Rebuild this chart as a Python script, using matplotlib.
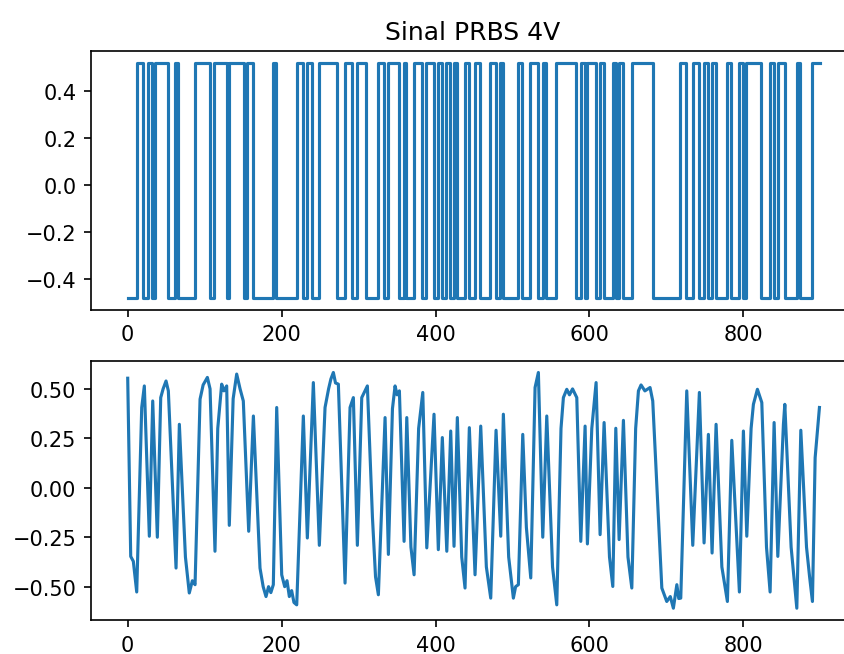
import matplotlib
matplotlib.use("Agg")
import matplotlib.pyplot as plt
import numpy as np

# PRBS levels and the instants where it switches low -> high (on) and high -> low (off)
prbs_low = -0.48
prbs_high = 0.52
t_end = 899
prbs_on = [11.7, 27, 36, 62, 87.5, 112.2, 131.5, 155.4, 189, 220, 232.6, 248, 282,
           297.5, 325.5, 338.5, 358.5, 372, 388, 403, 414, 423.5, 438, 451, 471,
           484, 507, 523, 539, 557, 588.5, 597, 613.5, 630, 638, 655, 718, 734,
           748.5, 759, 779, 794.5, 804, 834.5, 844.5, 869, 889.5]
prbs_off = [20, 31.5, 52, 65.8, 107, 129, 151, 162.4, 192.5, 227.4, 240, 272, 292,
            310, 333.5, 352, 362, 382.5, 397.5, 408, 419, 428, 443.5, 457.5, 478,
            487.5, 512.5, 533, 544, 583, 594, 608, 618.5, 634, 643.5, 682, 726, 742.5,
            754, 764, 784.5, 799.5, 823.5, 839.5, 853.5, 874, t_end]

resp_t = [0, 3.9, 7.3, 11.7, 18.2, 21.6, 28.1, 32.5, 38.5, 42.9, 46, 49.8, 52.8, 62.8,
          67.1, 75, 80, 84, 87.5, 94, 98, 103.5, 107, 113.4, 117, 122.1, 125, 128.6,
          132, 137, 141.6, 146, 150.2, 157.2, 163.3, 171.9, 176, 179.7, 183, 186,
          189.2, 193.6, 200.1, 204, 207, 210, 213, 216, 219.6, 228.2, 233.4, 241.2,
          249, 256.4, 261, 264, 267.2, 270, 273.7, 282.4, 288.9, 293.2, 298.4, 304.1,
          311.4, 318, 322, 325.7, 334.4, 338.7, 344, 347.4, 350, 353, 359.1, 362.6,
          368, 372.1, 378, 383.4, 388.6, 398, 403.6, 408.8, 414.6, 419.7, 424, 428.3,
          434, 438.3, 443.9, 451.3, 458.7, 466, 471.7, 478.6, 484.7, 488.1, 495,
          501.1, 504, 507.6, 513.3, 518, 523.7, 529.3, 533.6, 539.3, 544.5, 552,
          557.5, 563, 566.1, 570.5, 574, 578, 583.5, 588.7, 594.3, 597.3, 603, 608.6,
          613.8, 619, 626, 630.3, 634.2, 638.5, 644.1, 650, 655, 660, 663.6, 667, 672,
          678.7, 682.2, 694, 700.4, 705, 709, 713.5, 716, 718.6, 726.4, 734.2, 742.8,
          748.9, 754.5, 759.3, 764.5, 772, 779.2, 784.9, 794.8, 800, 804.4, 810, 813,
          818.2, 823.9, 830, 834.7, 839.9, 844.7, 852, 853.8, 862, 869.4, 874.6, 882,
          886, 889.7, 893.2, 898.8]
resp_y = [0.554, -0.347, -0.372, -0.527, 0.406, 0.515, -0.245, 0.439, -0.25, 0.456, 0.5,
          0.54, 0.49, -0.406, 0.321, -0.35, -0.532, -0.47, -0.49, 0.448, 0.52, 0.558,
          0.5, -0.321, 0.3, 0.524, 0.49, 0.515, -0.19, 0.45, 0.575, 0.5, 0.439, -0.22,
          0.363, -0.406, -0.5, -0.55, -0.5, -0.53, -0.49, 0.406, -0.44, -0.5, -0.47,
          -0.55, -0.52, -0.58, -0.592, 0.363, -0.254, 0.532, -0.291, 0.406, 0.5, 0.55,
          0.583, 0.53, 0.524, -0.482, 0.406, 0.456, -0.291, 0.456, 0.515, -0.15, -0.45,
          -0.541, 0.355, -0.337, 0.4, 0.515, 0.47, 0.49, -0.271, 0.355, -0.3, -0.44,
          0.3, 0.482, -0.304, 0.372, -0.313, 0.254, -0.321, 0.287, -0.296, 0.355,
          -0.35, -0.507, 0.304, -0.44, 0.312, -0.4, -0.558, 0.291, -0.245, 0.372,
          -0.35, -0.558, -0.5, -0.49, 0.27, -0.2, -0.456, 0.507, 0.583, -0.25, 0.363,
          -0.4, -0.592, 0.3, 0.456, 0.498, 0.47, 0.5, 0.456, -0.271, 0.312, -0.284,
          0.3, 0.532, -0.237, 0.33, -0.35, -0.499, 0.301, -0.262, 0.341, -0.35,
          -0.507, 0.3, 0.49, 0.52, 0.49, 0.507, 0.439, -0.507, -0.575, -0.55, -0.609,
          -0.49, -0.56, -0.558, 0.49, -0.291, 0.482, -0.279, 0.27, -0.33, 0.321, -0.4,
          -0.575, 0.24, -0.527, 0.287, -0.245, 0.3, 0.422, 0.498, 0.431, -0.3, -0.527,
          0.33, -0.347, 0.321, 0.422, -0.3, -0.609, 0.291, -0.3, -0.45, -0.575, 0.152,
          0.406]

# step arrays for the PRBS
prbs_t = [0]
prbs_v = [prbs_low]
for on, off in zip(prbs_on, prbs_off):
    prbs_t += [on, off]
    prbs_v += [prbs_high, prbs_low]
prbs_v[-1] = prbs_high  # signal still high at the last sample

W, H, DPI = 844, 655, 150
fig = plt.figure(figsize=(W / DPI, H / DPI), dpi=DPI)

ax1 = fig.add_axes([91 / W, 1 - 310.7 / H, 764 / W, 258.4 / H])
ax1.step(prbs_t, prbs_v, where="post")
ax1.set_title("Sinal PRBS 4V")
ax1.set_xlim(-47.7, 945)

ax2 = fig.add_axes([91 / W, 1 - 621 / H, 764 / W, 259.3 / H])
ax2.plot(resp_t, resp_y)
ax2.set_xlim(-47.7, 945)

fig.savefig("out.png", dpi=DPI)
